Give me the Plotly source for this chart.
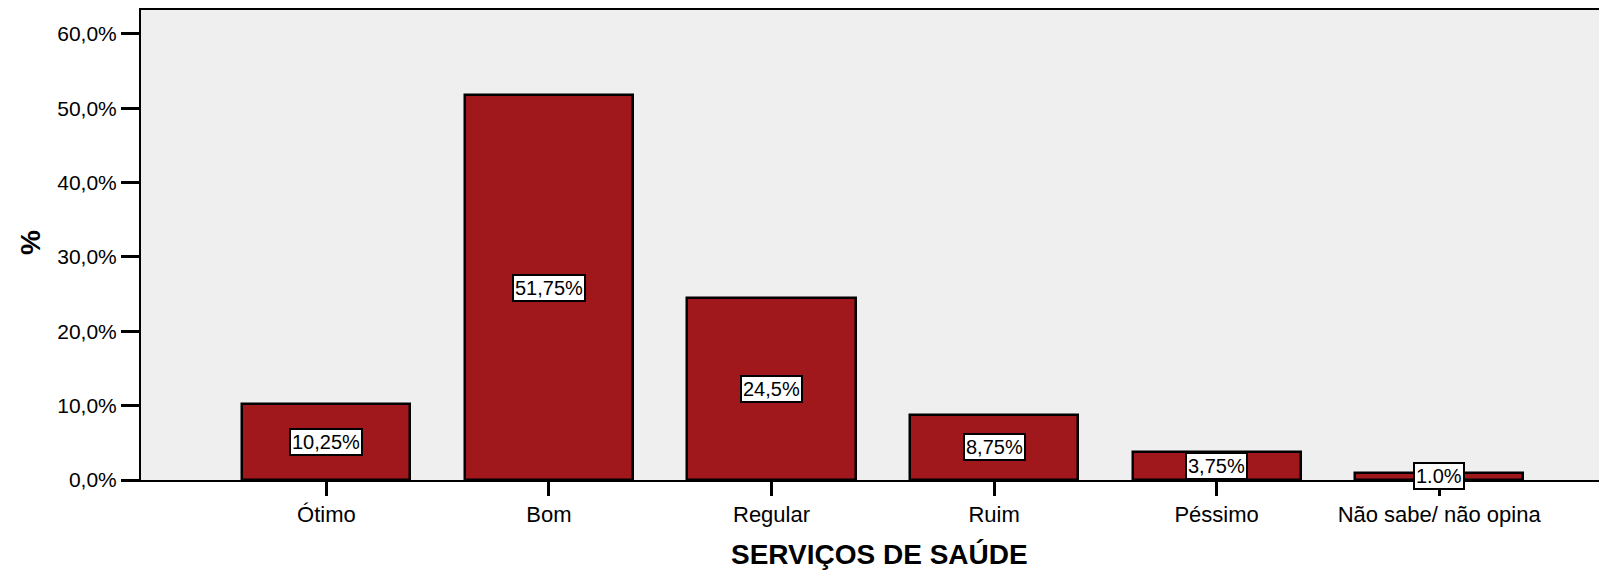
import plotly.graph_objects as go

categories = ["Ótimo", "Bom", "Regular", "Ruim", "Péssimo", "Não sabe/ não opina"]
values = [10.25, 51.75, 24.5, 8.75, 3.75, 1.0]
value_labels = ["10,25%", "51,75%", "24,5%", "8,75%", "3,75%", "1.0%"]
tick_vals = [0, 10, 20, 30, 40, 50, 60]
tick_text = ["0,0%", "10,0%", "20,0%", "30,0%", "40,0%", "50,0%", "60,0%"]

FONT = "Liberation Sans, Arial, sans-serif"
xidx = list(range(len(categories)))

fig = go.Figure()
fig.add_trace(go.Bar(
    x=xidx, y=values, width=0.755,
    marker=dict(color="#A0171C", line=dict(color="black", width=2.5)),
    hoverinfo="skip", showlegend=False,
))

annotations = []
for i, v, t in zip(xidx, values, value_labels):
    annotations.append(dict(
        x=i, y=v / 2, xref="x", yref="y", text=t, showarrow=False,
        font=dict(family=FONT, size=20, color="black"),
        bgcolor="white", bordercolor="black", borderwidth=2, borderpad=1,
    ))
annotations.append(dict(
    x=0.501, y=-0.1586, xref="paper", yref="paper", text="<b>SERVIÇOS DE SAÚDE</b>",
    showarrow=False, font=dict(family=FONT, size=28, color="black"),
    xanchor="center", yanchor="middle",
))
annotations.append(dict(
    x=-0.0755, y=0.506, xref="paper", yref="paper", text="<b>%</b>", textangle=-90,
    showarrow=False, font=dict(family=FONT, size=28, color="black"),
    xanchor="center", yanchor="middle",
))

fig.update_layout(
    width=1607, height=572,
    margin=dict(l=133, r=0, t=0, b=100),
    paper_bgcolor="white", plot_bgcolor="#EFEFEF",
    font=dict(family=FONT, size=21, color="black"),
    annotations=annotations,
    bargap=0,
)
fig.update_xaxes(
    range=[-0.833, 5.79], tickvals=xidx, ticktext=categories,
    showline=True, linecolor="black", linewidth=1.5, mirror=True,
    ticks="outside", ticklen=14, tickwidth=2.5, tickcolor="black",
    showgrid=False, zeroline=False, tickfont=dict(size=22),
)
fig.update_yaxes(
    range=[0, 63.2], tickvals=tick_vals, ticktext=tick_text,
    showline=True, linecolor="black", linewidth=2,
    ticks="outside", ticklen=18, tickwidth=2.5, tickcolor="black",
    showgrid=False, zeroline=False, tickfont=dict(size=21),
)

fig.write_html("out.html")
